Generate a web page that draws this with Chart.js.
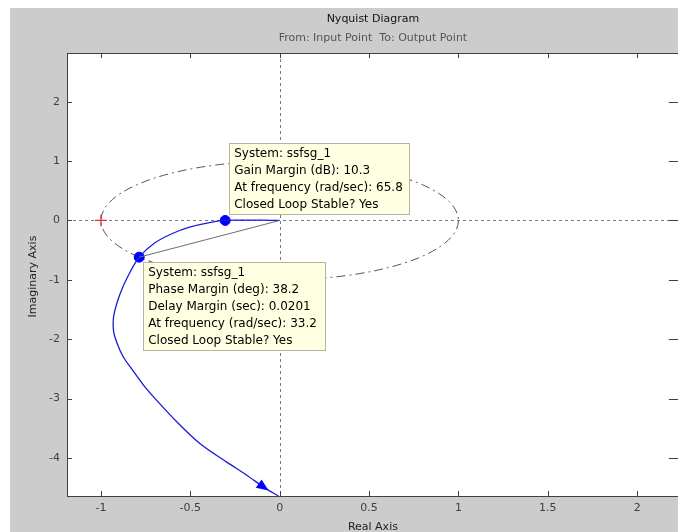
<!DOCTYPE html>
<html>
<head>
<meta charset="utf-8">
<script src="https://cdn.jsdelivr.net/npm/chart.js@4/dist/chart.umd.min.js"></script>
<style>
  html, body { margin: 0; padding: 0; background: #ffffff; overflow: hidden; }
  #wrap { width: 678px; height: 532px; overflow: hidden; }
</style>
</head>
<body>
<div id="wrap"><canvas id="c" width="686" height="532"></canvas></div>
<script>
// Nyquist locus (positive frequencies), real and imaginary parts
const nyqRe = [0, -0.10, -0.20, -0.305, -0.40, -0.50, -0.60, -0.70, -0.786, -0.847, -0.895, -0.928, -0.93, -0.912, -0.875, -0.828, -0.76, -0.688, -0.576, -0.445, -0.296, -0.184, -0.09, -0.007];
const nyqIm = [0, 0.004, 0.004, 0, -0.04, -0.11, -0.22, -0.38, -0.618, -0.926, -1.25, -1.60, -1.85, -2.05, -2.30, -2.50, -2.78, -3.03, -3.39, -3.76, -4.07, -4.29, -4.49, -4.64];

// Stability margin points
const gainMarginPt = { x: -0.305, y: 0 };
const phaseMarginPt = { x: -0.786, y: -0.618 };
const criticalPt = { x: -1, y: 0 };
const unitRadius = 1;
const arrowIndex = 22;

// Axis ticks
const xTicks = [-1, -0.5, 0, 0.5, 1, 1.5, 2];
const yTicks = [2, 1, 0, -1, -2, -3, -4];
const xTickLabels = ['-1', '-0.5', '0', '0.5', '1', '1.5', '2'];
const yTickLabels = ['2', '1', '0', '-1', '-2', '-3', '-4'];

// Data-tip texts
const gmTip = ['System: ssfsg_1', 'Gain Margin (dB): 10.3', 'At frequency (rad/sec): 65.8', 'Closed Loop Stable? Yes'];
const pmTip = ['System: ssfsg_1', 'Phase Margin (deg): 38.2', 'Delay Margin (sec): 0.0201', 'At frequency (rad/sec): 33.2', 'Closed Loop Stable? Yes'];

const nyqPoints = nyqRe.map((re, i) => ({ x: re, y: nyqIm[i] }));

const AXIS_COLOR = '#404040';
const TIP_FONT = '12px "DejaVu Sans", Arial, sans-serif';

const figurePlugin = {
  id: 'figure',
  beforeDraw(chart) {
    const ctx = chart.ctx, a = chart.chartArea;
    ctx.save();
    ctx.fillStyle = '#ffffff';
    ctx.fillRect(0, 0, chart.width, chart.height);
    ctx.fillStyle = '#cccccc';
    ctx.fillRect(10, 8, chart.width - 10, chart.height - 8);
    ctx.fillStyle = '#ffffff';
    ctx.fillRect(a.left, a.top, a.right - a.left, a.bottom - a.top);
    ctx.restore();
  },
  beforeDatasetsDraw(chart) {
    const ctx = chart.ctx, a = chart.chartArea;
    const xs = chart.scales.x, ys = chart.scales.y;
    const x0 = xs.getPixelForValue(0), y0 = ys.getPixelForValue(0);
    ctx.save();
    ctx.beginPath();
    ctx.rect(a.left, a.top, a.right - a.left, a.bottom - a.top);
    ctx.clip();
    // zero crosshair
    ctx.strokeStyle = '#7a7a7a';
    ctx.lineWidth = 1;
    ctx.setLineDash([3, 3]);
    ctx.beginPath();
    ctx.moveTo(Math.round(x0) + 0.5, a.top);
    ctx.lineTo(Math.round(x0) + 0.5, a.bottom);
    ctx.moveTo(a.left, Math.round(y0) + 0.5);
    ctx.lineTo(a.right, Math.round(y0) + 0.5);
    ctx.stroke();
    // unit circle
    const rx = xs.getPixelForValue(unitRadius) - x0;
    const ry = y0 - ys.getPixelForValue(unitRadius);
    ctx.strokeStyle = '#555555';
    ctx.setLineDash([9, 4, 2, 4]);
    ctx.beginPath();
    ctx.ellipse(x0, y0, rx, ry, 0, 0, Math.PI * 2);
    ctx.stroke();
    ctx.restore();
  },
  afterDatasetsDraw(chart) {
    const ctx = chart.ctx;
    const xs = chart.scales.x, ys = chart.scales.y;
    // direction arrow on the locus
    const p = nyqPoints[arrowIndex], q = nyqPoints[arrowIndex - 1];
    const px = xs.getPixelForValue(p.x), py = ys.getPixelForValue(p.y);
    const qx = xs.getPixelForValue(q.x), qy = ys.getPixelForValue(q.y);
    let dx = px - qx, dy = py - qy;
    const len = Math.hypot(dx, dy); dx /= len; dy /= len;
    const nx = -dy, ny = dx;
    ctx.save();
    ctx.fillStyle = '#0000ff';
    ctx.beginPath();
    ctx.moveTo(px + dx * 6, py + dy * 6);
    ctx.lineTo(px - dx * 6 + nx * 5, py - dy * 6 + ny * 5);
    ctx.lineTo(px - dx * 6 - nx * 5, py - dy * 6 - ny * 5);
    ctx.closePath();
    ctx.fill();
    ctx.restore();

    // data tips
    const drawTip = (lines, ax, ay, w, h, firstY) => {
      ctx.save();
      ctx.fillStyle = '#ffffe1';
      ctx.fillRect(ax, ay, w, h);
      ctx.strokeStyle = '#b4b4a0';
      ctx.lineWidth = 1;
      ctx.strokeRect(Math.round(ax) + 0.5, Math.round(ay) + 0.5, w, h);
      ctx.fillStyle = '#000000';
      ctx.font = TIP_FONT;
      ctx.textBaseline = 'middle';
      ctx.textAlign = 'left';
      lines.forEach((t, i) => ctx.fillText(t, ax + 5, ay + firstY + i * 17));
      ctx.restore();
    };
    const gx = xs.getPixelForValue(gainMarginPt.x), gy = ys.getPixelForValue(gainMarginPt.y);
    drawTip(gmTip, gx + 4, gy - 77, 180, 71, 10);
    const mx = xs.getPixelForValue(phaseMarginPt.x), my = ys.getPixelForValue(phaseMarginPt.y);
    drawTip(pmTip, mx + 4, my + 5, 182, 88, 11);
  },
  afterDraw(chart) {
    const ctx = chart.ctx, a = chart.chartArea;
    const xs = chart.scales.x, ys = chart.scales.y;
    ctx.save();
    ctx.strokeStyle = AXIS_COLOR;
    ctx.lineWidth = 1;
    // axes box (left, top, bottom)
    ctx.beginPath();
    ctx.moveTo(a.left + 0.5, a.top + 0.5);
    ctx.lineTo(a.left + 0.5, a.bottom + 0.5);
    ctx.moveTo(a.left, a.bottom + 0.5);
    ctx.lineTo(a.right, a.bottom + 0.5);
    ctx.moveTo(a.left, a.top + 0.5);
    ctx.lineTo(a.right, a.top + 0.5);
    // inward tick marks
    xTicks.forEach(v => {
      const x = Math.round(xs.getPixelForValue(v)) + 0.5;
      ctx.moveTo(x, a.bottom); ctx.lineTo(x, a.bottom - 5);
      ctx.moveTo(x, a.top); ctx.lineTo(x, a.top + 5);
    });
    yTicks.forEach(v => {
      const y = Math.round(ys.getPixelForValue(v)) + 0.5;
      ctx.moveTo(a.left, y); ctx.lineTo(a.left + 5, y);
      ctx.moveTo(a.right, y); ctx.lineTo(a.right - 10, y);
    });
    ctx.stroke();

    // titles, centred over the plot box
    const cx = (a.left + a.right) / 2;
    ctx.textAlign = 'center';
    ctx.textBaseline = 'middle';
    ctx.fillStyle = '#111111';
    ctx.font = '11px "DejaVu Sans", Arial, sans-serif';
    ctx.fillText('Nyquist Diagram', cx, 19);
    ctx.fillStyle = '#555555';
    ctx.fillText('From: Input Point  To: Output Point', cx, 38);
    ctx.fillStyle = '#222222';
    ctx.fillText('Real Axis', cx, 527);
    ctx.translate(33, (a.top + a.bottom) / 2 + 2);
    ctx.rotate(-Math.PI / 2);
    ctx.fillText('Imaginary Axis', 0, 0);
    ctx.restore();
  }
};

new Chart(document.getElementById('c'), {
  type: 'scatter',
  data: {
    datasets: [
      {
        label: 'margin line',
        data: [{ x: 0, y: 0 }, phaseMarginPt],
        showLine: true,
        borderColor: '#6e6e6e',
        borderWidth: 1,
        pointRadius: 0
      },
      {
        label: 'Nyquist',
        data: nyqPoints,
        showLine: true,
        borderColor: '#1a1ad8',
        borderWidth: 1.3,
        tension: 0.3,
        pointRadius: 0
      },
      {
        label: 'margins',
        data: [gainMarginPt, phaseMarginPt],
        pointRadius: 5,
        pointBackgroundColor: '#0000ff',
        pointBorderColor: '#0000ff',
        showLine: false
      },
      {
        label: 'critical point',
        data: [criticalPt],
        pointStyle: 'cross',
        pointRadius: 6,
        pointBorderColor: '#dd3030',
        pointBorderWidth: 1.2,
        showLine: false
      }
    ]
  },
  options: {
    responsive: false,
    animation: false,
    devicePixelRatio: 1,
    layout: { padding: { top: 53, left: 0, right: 0, bottom: 0 } },
    plugins: { legend: { display: false }, tooltip: { enabled: false }, title: { display: false } },
    scales: {
      x: {
        type: 'linear',
        min: -1.19,
        max: 2.233,
        afterBuildTicks: s => { s.ticks = xTicks.map(v => ({ value: v })); },
        afterFit: s => { s.height = 36; },
        grid: { display: false, drawTicks: false },
        border: { display: false },
        ticks: {
          padding: 6,
          color: '#404040',
          font: { family: '"DejaVu Sans", Arial, sans-serif', size: 11 },
          maxRotation: 0,
          autoSkip: false,
          callback: v => xTickLabels[xTicks.indexOf(v)]
        }
      },
      y: {
        type: 'linear',
        min: -4.64,
        max: 2.82,
        afterBuildTicks: s => { s.ticks = yTicks.map(v => ({ value: v })); },
        afterFit: s => { s.width = 67; },
        grid: { display: false, drawTicks: false },
        border: { display: false },
        ticks: {
          padding: 7,
          color: '#404040',
          font: { family: '"DejaVu Sans", Arial, sans-serif', size: 11 },
          autoSkip: false,
          callback: v => yTickLabels[yTicks.indexOf(v)]
        }
      }
    }
  },
  plugins: [figurePlugin]
});
</script>
</body>
</html>
